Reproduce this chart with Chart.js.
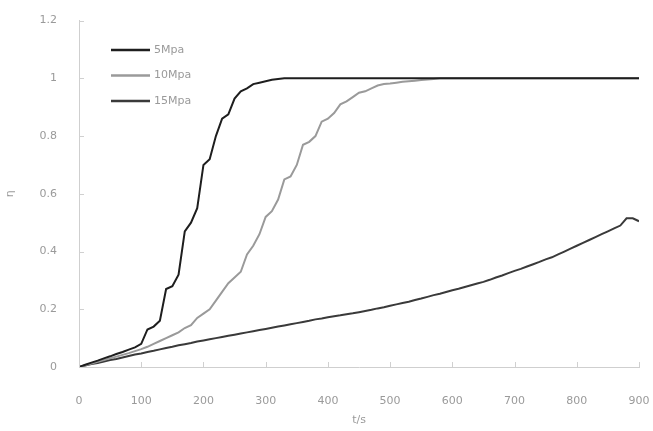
<!DOCTYPE html>
<html>
<head>
<meta charset="utf-8">
<script src="https://cdn.jsdelivr.net/npm/chart.js@4.4.0/dist/chart.umd.min.js"></script>
<style>
  html, body { margin: 0; padding: 0; background: #fff; }
  #wrap { width: 653px; height: 431px; }
</style>
</head>
<body>
<div id="wrap"><canvas id="myChart" width="653" height="431"></canvas></div>
<script>
// x in seconds, every 10 s
const times = [];
for (let t = 0; t <= 900; t += 10) times.push(t);

const seriesNames = ['5Mpa', '10Mpa', '15Mpa'];
const yTicks = [0, 0.2, 0.4, 0.6, 0.8, 1, 1.2];
const xTicks = [0, 100, 200, 300, 400, 500, 600, 700, 800, 900];

const fast = [
    0, 0.008, 0.015, 0.022, 0.03, 0.037, 0.045, 0.052, 0.06, 0.068,
    0.08, 0.13, 0.14, 0.16, 0.27, 0.28, 0.32, 0.47, 0.5, 0.55,
    0.7, 0.72, 0.8, 0.86, 0.875, 0.93, 0.955, 0.965, 0.98, 0.985,
    0.99, 0.995, 0.998, 1, 1, 1, 1, 1, 1, 1,
    1, 1, 1, 1, 1, 1, 1, 1, 1, 1,
    1, 1, 1, 1, 1, 1, 1, 1, 1, 1,
    1, 1, 1, 1, 1, 1, 1, 1, 1, 1,
    1, 1, 1, 1, 1, 1, 1, 1, 1, 1,
    1, 1, 1, 1, 1, 1, 1, 1, 1, 1,
    1
];

const medium = [
    0, 0.006, 0.012, 0.018, 0.024, 0.03, 0.036, 0.042, 0.048, 0.055,
    0.062, 0.07, 0.08, 0.09, 0.1, 0.11, 0.12, 0.135, 0.145, 0.17,
    0.185, 0.2, 0.23, 0.26, 0.29, 0.31, 0.33, 0.39, 0.42, 0.46,
    0.52, 0.54, 0.58, 0.65, 0.66, 0.7, 0.77, 0.78, 0.8, 0.85,
    0.86, 0.88, 0.91, 0.92, 0.935, 0.95, 0.955, 0.965, 0.975, 0.98,
    0.982, 0.985, 0.988, 0.99, 0.992, 0.994, 0.996, 0.998, 1, 1,
    1, 1, 1, 1, 1, 1, 1, 1, 1, 1,
    1, 1, 1, 1, 1, 1, 1, 1, 1, 1,
    1, 1, 1, 1, 1, 1, 1, 1, 1, 1,
    1
];

const slow = [
    0, 0.005, 0.01, 0.014, 0.019, 0.024, 0.028, 0.033, 0.038, 0.043,
    0.047, 0.052, 0.056, 0.061, 0.066, 0.07, 0.075, 0.079, 0.083, 0.088,
    0.092, 0.096, 0.1, 0.104, 0.108, 0.112, 0.116, 0.12, 0.124, 0.128,
    0.132, 0.136, 0.14, 0.144, 0.148, 0.152, 0.156, 0.16, 0.165, 0.168,
    0.172, 0.176, 0.179, 0.183, 0.186, 0.19, 0.194, 0.198, 0.203, 0.207,
    0.212, 0.217, 0.222, 0.226, 0.232, 0.237, 0.243, 0.249, 0.254, 0.26,
    0.266, 0.271, 0.277, 0.283, 0.289, 0.295, 0.302, 0.31, 0.317, 0.325,
    0.333, 0.34, 0.348, 0.356, 0.364, 0.373, 0.38, 0.39, 0.4, 0.41,
    0.42, 0.43, 0.44, 0.45, 0.46, 0.47, 0.48, 0.49, 0.515, 0.515,
    0.505
];

const colors = ['#1e1e1e', '#9a9a9a', '#3a3a3a'];
const txtFont = { family: 'DejaVu Sans', size: 11 };

// inward tick marks (ticks drawn inside the plot)
const innerTicks = {
    id: 'innerTicks',
    afterDraw(chart) {
        const ctx = chart.ctx, xs = chart.scales.x, ys = chart.scales.y;
        ctx.save();
        ctx.strokeStyle = '#d0d0d0';
        ctx.lineWidth = 1;
        xTicks.forEach(v => {
            const px = Math.round(xs.getPixelForValue(v)) + 0.5;
            ctx.beginPath(); ctx.moveTo(px, ys.bottom); ctx.lineTo(px, ys.bottom - 5); ctx.stroke();
        });
        yTicks.forEach(v => {
            const py = Math.round(ys.getPixelForValue(v)) + 0.5;
            ctx.beginPath(); ctx.moveTo(xs.left, py); ctx.lineTo(xs.left + 5, py); ctx.stroke();
        });
        ctx.restore();
    }
};

const legendBox = {
    id: 'legendBox',
    afterDraw(chart) {
        const ctx = chart.ctx;
        ctx.save();
        ctx.font = '11px "DejaVu Sans"';
        ctx.textBaseline = 'middle';
        seriesNames.forEach((name, i) => {
            const y = 50 + i * 25.5;
            ctx.strokeStyle = colors[i];
            ctx.lineWidth = 2.5;
            ctx.beginPath(); ctx.moveTo(111, y); ctx.lineTo(150, y); ctx.stroke();
            ctx.fillStyle = '#9a9a9a';
            ctx.fillText(name, 154, y);
        });
        ctx.restore();
    }
};

const datasets = [fast, medium, slow].map((vals, i) => ({
    label: seriesNames[i],
    data: vals.map((v, k) => ({ x: times[k], y: v })),
    borderColor: colors[i],
    borderWidth: 2,
    pointRadius: 0,
    tension: 0,
    fill: false
}));

new Chart(document.getElementById('myChart').getContext('2d'), {
    type: 'line',
    data: { datasets },
    options: {
        responsive: false,
        animation: false,
        layout: { padding: { top: 20, right: 0, left: 0, bottom: 0 } },
        plugins: { legend: { display: false }, tooltip: { enabled: false } },
        scales: {
            x: {
                type: 'linear',
                min: 0, max: 900,
                afterBuildTicks: s => { s.ticks = xTicks.map(v => ({ value: v })); },
                afterFit: s => { s.height = 64; s.paddingRight = 14; s.paddingLeft = 0; },
                grid: { display: false },
                border: { color: '#cfcfcf', width: 1 },
                ticks: { color: '#9a9a9a', font: txtFont, padding: 20, maxRotation: 0 },
                title: { display: true, text: 't/s', color: '#9a9a9a', font: txtFont, padding: { top: 2 } }
            },
            y: {
                min: 0, max: 1.2,
                afterBuildTicks: s => { s.ticks = yTicks.map(v => ({ value: v })); },
                afterFit: s => { s.width = 79; },
                grid: { display: false },
                border: { color: '#cfcfcf', width: 1 },
                ticks: { color: '#9a9a9a', font: txtFont, padding: 14, callback: v => String(v) },
                title: { display: true, text: 'η', color: '#9a9a9a', font: txtFont, padding: { bottom: 20 } }
            }
        }
    },
    plugins: [innerTicks, legendBox]
});
</script>
</body>
</html>
